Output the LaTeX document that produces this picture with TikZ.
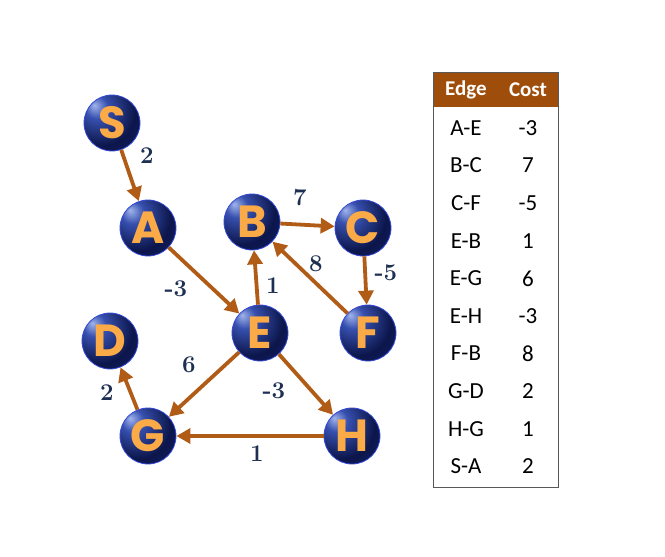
\documentclass[tikz,border=0pt]{standalone}
\usepackage{fontspec}
\setmainfont{Latin Modern Roman}
\newfontfamily\tabfont{Carlito}
\newfontfamily\letfont{Poppins}
\usetikzlibrary{arrows.meta}
\definecolor{edgec}{RGB}{176,92,22}
\definecolor{hdr}{RGB}{158,78,10}
\definecolor{lbl}{RGB}{30,48,82}
\definecolor{letc}{RGB}{250,170,70}
\definecolor{leto}{RGB}{205,105,25}
\definecolor{rimc}{RGB}{55,75,215}
\definecolor{ballhl}{RGB}{160,180,235}
\definecolor{ballmid}{RGB}{55,80,175}
\definecolor{balldk}{RGB}{12,22,75}
\definecolor{balldk2}{RGB}{22,38,120}
\pgfdeclareradialshading{myball}{\pgfpoint{-16bp}{16bp}}{%
  color(0bp)=(ballhl); color(10bp)=(ballmid); color(30bp)=(balldk);
  color(55bp)=(balldk2); color(75bp)=(rimc)}
\tikzset{
  vtx/.style={circle, minimum size=56pt, inner sep=0pt, shading=myball,
    draw=rimc, line width=0.8pt,
    font=\letfont\bfseries\fontsize{45}{45}\selectfont, text=letc},
  edge/.style={draw=edgec, line width=3.8pt, -{Triangle[length=14pt,width=15pt]}},
  wt/.style={font=\bfseries\fontsize{24}{24}\selectfont, text=lbl},
  cell/.style={font=\tabfont\fontsize{23}{23}\selectfont, anchor=center},
  hcell/.style={font=\tabfont\bfseries\fontsize{21}{21}\selectfont, anchor=center, text=white},
}
\begin{document}
\begin{tikzpicture}[x=1pt,y=-1pt]
\useasboundingbox (0,0) rectangle (665,557);
% nodes
\node[vtx] (S) at (112,123) {S};
\node[vtx] (A) at (148,228) {A};
\node[vtx] (B) at (252,222) {B};
\node[vtx] (C) at (363,228) {C};
\node[vtx] (D) at (110,341) {D};
\node[vtx] (E) at (260,333) {E};
\node[vtx] (F) at (368,333) {F};
\node[vtx] (G) at (148,436) {G};
\node[vtx] (H) at (352,436) {H};
% edges
\draw[edge] (S) -- (A);
\draw[edge] (A) -- (E);
\draw[edge] (E) -- (B);
\draw[edge] (B) -- (C);
\draw[edge] (C) -- (F);
\draw[edge] (F) -- (B);
\draw[edge] (E) -- (G);
\draw[edge] (E) -- (H);
\draw[edge] (H) -- (G);
\draw[edge] (G) -- (D);
% weights
\node[wt] (wSA) at (147,156) {2};
\node[wt] (wBC) at (300,198) {7};
\node[wt] (wAE) at (176,289) {-3};
\node[wt] (wEB) at (273,286) {1};
\node[wt] (wFB) at (316,264) {8};
\node[wt] (wCF) at (386,273) {-5};
\node[wt] (wEG) at (189,365) {6};
\node[wt] (wGD) at (107,393) {2};
\node[wt] (wEH) at (274,391) {-3};
\node[wt] (wHG) at (257,454) {1};
% table
\fill[hdr] (433,72) rectangle (558,107);
\draw[gray!70!black, line width=0.8pt] (433,72) rectangle (558,487);
\node[hcell] (h1) at (466,90) {Edge};
\node[hcell] (h2) at (528,90) {Cost};
\foreach \e/\c [count=\i] in {A-E/-3,B-C/7,C-F/-5,E-B/1,E-G/6,E-H/-3,F-B/8,G-D/2,H-G/1,S-A/2}{
  \node[cell] (e\i) at (466,{128+(\i-1)*37.6}) {\e};
  \node[cell] (c\i) at (528,{128+(\i-1)*37.6}) {\c};
}
\end{tikzpicture}
\end{document}
